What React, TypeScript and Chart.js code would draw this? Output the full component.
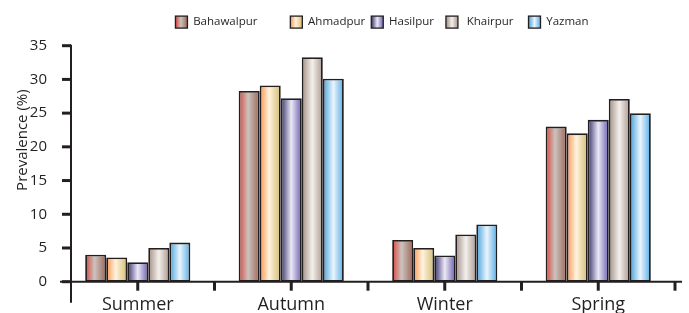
import React, { useEffect, useRef } from "react";
import { Chart, registerables } from "chart.js";

Chart.register(...registerables);

// ---- data ----
const categories = ["Summer", "Autumn", "Winter", "Spring"];
const seriesNames = ["Bahawalpur", "Ahmadpur", "Hasilpur", "Khairpur", "Yazman"];
const bahawalpur = [4.0, 28.3, 6.2, 23.0];
const ahmadpur = [3.6, 29.1, 5.0, 22.0];
const hasilpur = [2.9, 27.2, 3.9, 24.0];
const khairpur = [5.0, 33.3, 7.0, 27.1];
const yazman = [5.8, 30.1, 8.5, 25.0];
const yTickValues = [0, 5, 10, 15, 20, 25, 30, 35];
const yTitle = "Prevalence (%)";

// ---- styles ----
const INK = "#231f20";
const FONT = "'Open Sans', 'Noto Sans', sans-serif";
const gradientStops: [number, string][][] = [
  [[0, "#d8473c"], [0.45, "#cbc3bf"], [1, "#9c6656"]],
  [[0, "#f8954f"], [0.45, "#fff3de"], [1, "#d3bc72"]],
  [[0, "#35316a"], [0.5, "#ebe9f6"], [1, "#6a5fae"]],
  [[0, "#9f8d83"], [0.5, "#f4f0ec"], [1, "#a9998f"]],
  [[0, "#45a0db"], [0.5, "#eaf5fd"], [1, "#55ace6"]],
];
const baseColors = ["#c06050", "#f0c080", "#5550a0", "#c8bab0", "#80c0ec"];
// extra spacing around legend label texts (leading, trailing), in space characters
const legendSpacing: [number, number][] = [[0, 9], [0, 0], [0, 2], [1, 3], [0, 0]];
const LEGEND_SHIFT_X = 14;

function makeGradient(ctx: CanvasRenderingContext2D, x0: number, x1: number, idx: number) {
  const g = ctx.createLinearGradient(x0, 0, x1, 0);
  for (const [o, c] of gradientStops[idx]) g.addColorStop(o, c);
  return g;
}

const decorPlugin = {
  id: "decor",
  afterLayout(chart: any) {
    const lg = chart.legend;
    if (lg) {
      lg.left += LEGEND_SHIFT_X;
      lg.right += LEGEND_SHIFT_X;
    }
  },
  beforeDatasetsDraw(chart: any) {
    const ctx = chart.ctx as CanvasRenderingContext2D;
    chart.data.datasets.forEach((_: any, di: number) => {
      const meta = chart.getDatasetMeta(di);
      meta.data.forEach((el: any) => {
        const { x, width } = el.getProps(["x", "width"], true);
        el.options.backgroundColor = makeGradient(ctx, x - width / 2, x + width / 2, di);
      });
    });
  },
  afterDraw(chart: any) {
    const ctx = chart.ctx as CanvasRenderingContext2D;
    const { chartArea } = chart;
    const xs = chart.scales.x;
    const ys = chart.scales.y;
    const y0 = ys.getPixelForValue(0);
    const axisX = chartArea.left + 10;
    ctx.save();
    ctx.strokeStyle = INK;
    // x axis line
    ctx.lineWidth = 2;
    ctx.beginPath();
    ctx.moveTo(chartArea.left - 1, y0);
    ctx.lineTo(chartArea.right + 7, y0);
    ctx.stroke();
    // y axis line
    ctx.beginPath();
    ctx.moveTo(axisX, ys.getPixelForValue(yTickValues[yTickValues.length - 1]) - 1);
    ctx.lineTo(axisX, chartArea.bottom + 21);
    ctx.stroke();
    // y ticks
    ctx.lineWidth = 3;
    yTickValues.forEach((v) => {
      const py = ys.getPixelForValue(v);
      ctx.beginPath();
      ctx.moveTo(axisX - 9, py);
      ctx.lineTo(axisX, py);
      ctx.stroke();
    });
    // x ticks: centers and boundaries
    const n = categories.length;
    const step = n > 1 ? xs.getPixelForValue(1) - xs.getPixelForValue(0) : xs.width;
    const positions: number[] = [];
    for (let i = 0; i < n; i++) {
      const c = xs.getPixelForValue(i);
      positions.push(c, c + step / 2);
    }
    positions.forEach((px) => {
      ctx.beginPath();
      ctx.moveTo(px, y0);
      ctx.lineTo(px, y0 + 9);
      ctx.stroke();
    });
    // y title
    ctx.fillStyle = INK;
    ctx.font = `15px ${FONT}`;
    ctx.textAlign = "center";
    ctx.textBaseline = "middle";
    ctx.translate(23, chartArea.top + chartArea.height * 0.4);
    ctx.rotate(-Math.PI / 2);
    ctx.fillText(yTitle, 0, 0);
    ctx.restore();
    // legend boxes
    const legend = chart.legend;
    if (legend && legend.legendHitBoxes) {
      ctx.save();
      legend.legendHitBoxes.forEach((hb: any, i: number) => {
        const bs = 12;
        const bx = hb.left;
        const by = hb.top + (hb.height - bs) / 2;
        ctx.fillStyle = makeGradient(ctx, bx, bx + bs, i);
        ctx.fillRect(bx, by, bs, bs);
        ctx.strokeStyle = INK;
        ctx.lineWidth = 1.3;
        ctx.strokeRect(bx, by, bs, bs);
      });
      ctx.restore();
    }
  },
};

export default function App() {
  const ref = useRef<HTMLCanvasElement | null>(null);
  useEffect(() => {
    if (!ref.current) return;
    const series = [bahawalpur, ahmadpur, hasilpur, khairpur, yazman];
    const chart = new Chart(ref.current, {
      type: "bar",
      data: {
        labels: categories,
        datasets: series.map((d, i) => ({
          label: seriesNames[i],
          data: d,
          backgroundColor: () => baseColors[i],
          borderColor: INK,
          borderWidth: 1.8,
          borderSkipped: false,
          categoryPercentage: 0.685,
          barPercentage: 1,
        })),
      },
      options: {
        responsive: false,
        animation: false,
        layout: { padding: { top: 2.5, right: 14, bottom: 0, left: 0 } },
        plugins: {
          tooltip: { enabled: false },
          legend: {
            display: true,
            position: "top",
            fullSize: false,
            labels: {
              boxWidth: 12,
              boxHeight: 27.2,
              padding: 6,
              color: INK,
              font: { family: FONT, size: 11.5 },
              generateLabels: (c: any) =>
                c.data.datasets.map((ds: any, i: number) => ({
                  text:
                    " ".repeat(legendSpacing[i][0]) + ds.label + " ".repeat(legendSpacing[i][1]),
                  fillStyle: "rgba(0,0,0,0)",
                  strokeStyle: "rgba(0,0,0,0)",
                  lineWidth: 0,
                  hidden: false,
                  datasetIndex: i,
                  fontColor: INK,
                })),
            },
          },
        },
        scales: {
          x: {
            grid: { display: false },
            border: { display: false },
            ticks: { color: INK, font: { family: FONT, size: 18 }, padding: 4 },
            afterFit: (s: any) => {
              s.height = 31.3;
            },
          },
          y: {
            min: 0,
            max: 35,
            grid: { display: false },
            border: { display: false },
            ticks: { stepSize: 5, color: INK, font: { family: FONT, size: 15 }, padding: 6 },
            afterFit: (s: any) => {
              s.width = 61;
            },
          },
        },
      },
      plugins: [decorPlugin],
    });
    return () => chart.destroy();
  }, []);
  return (
    <div style={{ position: "absolute", left: 0, top: 0, width: 689, height: 313 }}>
      <canvas ref={ref} width={689} height={313} />
    </div>
  );
}
